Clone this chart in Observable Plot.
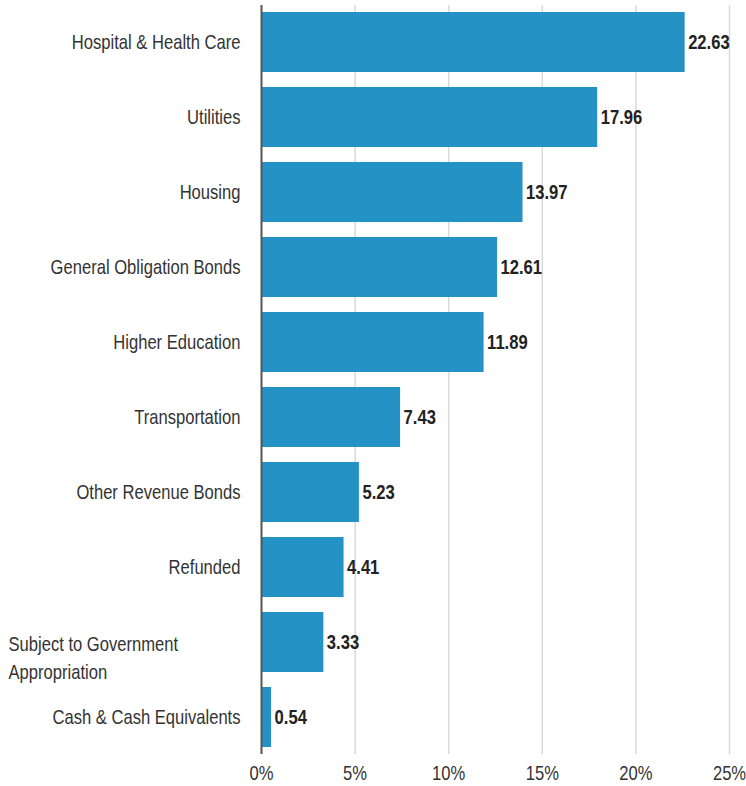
<!DOCTYPE html>
<html>
<head>
<meta charset="utf-8">
<script src="https://cdn.jsdelivr.net/npm/d3@7"></script>
<script src="https://cdn.jsdelivr.net/npm/@observablehq/plot@0.6"></script>
<style>
  html, body { margin: 0; padding: 0; background: #fff; }
  #chart svg { display: block; }
</style>
</head>
<body>
<div id="chart"></div>
<script>
const sectors = [
  "Hospital & Health Care",
  "Utilities",
  "Housing",
  "General Obligation Bonds",
  "Higher Education",
  "Transportation",
  "Other Revenue Bonds",
  "Refunded",
  "Subject to Government\nAppropriation",
  "Cash & Cash Equivalents"
];
const weights = [22.63, 17.96, 13.97, 12.61, 11.89, 7.43, 5.23, 4.41, 3.33, 0.54];
const xTicks = [0, 5, 10, 15, 20, 25];

const data = sectors.map((s, i) => ({sector: s, value: weights[i], wrapped: s.includes("\n")}));

const FONT = "'Liberation Sans', Arial, sans-serif";

const chart = Plot.plot({
  width: 746,
  height: 786,
  marginLeft: 261,
  marginRight: 17,
  marginTop: 5,
  marginBottom: 32,
  style: {fontFamily: FONT, fontSize: "20px", color: "#333", background: "#fff", overflow: "visible"},
  x: {domain: [0, 25], ticks: xTicks, tickFormat: d => d + "%", label: null},
  y: {domain: sectors, paddingInner: 0.2, paddingOuter: 0.087, axis: null},
  marks: [
    Plot.ruleX(xTicks.filter(d => d > 0), {stroke: "#d9d9d9", strokeWidth: 1.5}),
    Plot.barX(data, {x: "value", y: "sector", fill: "#2592c5", insetLeft: 1}),
    Plot.ruleX([0], {stroke: "#555", strokeWidth: 2}),
    Plot.axisX({ticks: xTicks, tickFormat: d => d + "%", tickSize: 0, tickPadding: 11, fontSize: 20, fill: "#333", label: null}),
    Plot.text(data.filter(d => !d.wrapped), {
      y: "sector", text: "sector", frameAnchor: "left", textAnchor: "end", dx: -21,
      fill: "#333", fontSize: 20
    }),
    Plot.text(data.filter(d => d.wrapped), {
      y: "sector", text: "sector", frameAnchor: "left", textAnchor: "start", dx: -253, dy: 14,
      lineHeight: 1.4, fill: "#333", fontSize: 20
    }),
    Plot.text(data, {
      x: "value", y: "sector", text: d => d.value.toFixed(2), textAnchor: "start", dx: 3,
      fontWeight: "bold", fill: "#222", fontSize: 20
    })
  ]
});

// No narrow face is installed: condense each text horizontally around its own anchor point.
d3.select(chart).selectAll("text").each(function() {
  const t = d3.select(this);
  const tr = t.attr("transform") || "";
  t.attr("transform", tr + " scale(0.83,1)");
});
document.getElementById("chart").appendChild(chart);
</script>
</body>
</html>
